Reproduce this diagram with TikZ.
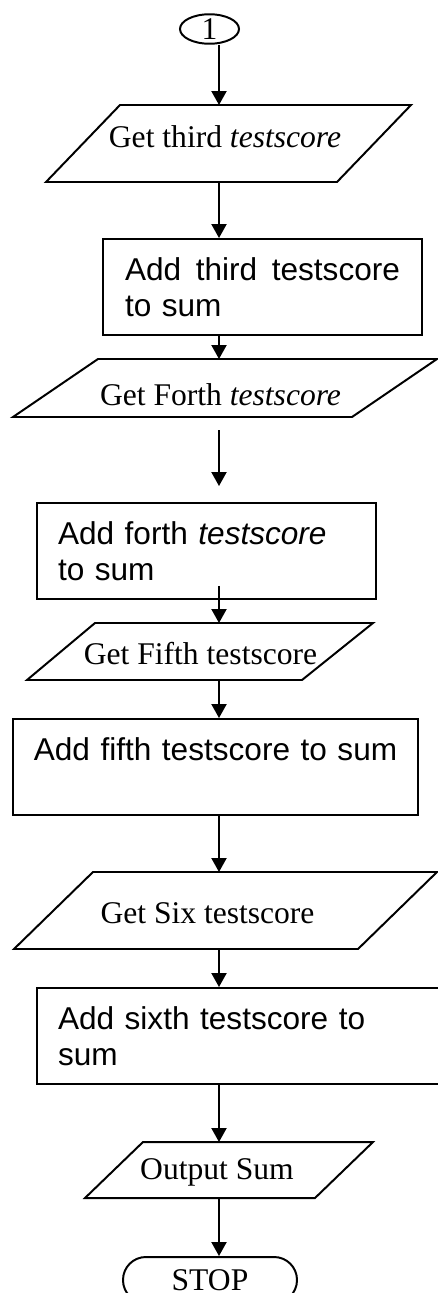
\documentclass[tikz,border=0pt]{standalone}
\usepackage{fontspec}
\setmainfont{Liberation Serif}
\newfontfamily\arialfont{Liberation Sans}
\usetikzlibrary{arrows.meta,shapes.geometric}
\def\pxu{0.38pt}
\tikzset{
	outline/.style={line width=0.75pt},
	flow/.style={line width=0.75pt, -{Triangle[length=5.3pt,width=5.7pt]}},
	iotext/.style={anchor=base, inner sep=0pt, font=\fontsize{12}{13.8}\selectfont},
	procbox/.style={draw, outline, minimum height=96*\pxu, font=\arialfont\fontsize{12}{13.8}\selectfont},
}

\begin{document}
\begin{tikzpicture}[x=\pxu, y=-\pxu]
			%%%%% START %%%%%
			\useasboundingbox (0,0) rectangle (438,1293);
			\coordinate (spine) at (219,0);
			
			\node[draw, ellipse, outline, minimum width=59*\pxu, minimum height=29*\pxu, inner sep=0pt, font=\fontsize{12}{13.8}\selectfont] (c1) at (209.5,29) {1};
			
			\draw[outline] (120,105) -- (411,105) -- (337,182) -- (46,182) -- cycle;
			\node[iotext] (in3) at (225,148) {Get third \textit{testscore}};
			\coordinate (in3top) at (219,105);
			\coordinate (in3bot) at (219,182);
			
			\node[procbox, minimum width=319*\pxu, text width=275*\pxu, align=left] (add3) at (262.5,287) {Add\hfill third\hfill testscore\\to sum};
			
			\draw[outline] (98,359) -- (437,359) -- (352,417) -- (13,417) -- cycle;
			\node[iotext] (in4) at (220.5,405) {Get Forth \textit{testscore}};
			\coordinate (in4top) at (219,359);
			\coordinate (in4bot) at (219,417);
			
			\node[procbox, minimum width=339*\pxu, text width=297*\pxu, align=left] (add4) at (206.5,551) {Add forth \textit{testscore}\\to sum};
			
			\draw[outline] (95,623) -- (373,623) -- (302,680) -- (27,680) -- cycle;
			\node[iotext] (in5) at (200.5,664) {Get Fifth testscore};
			\coordinate (in5top) at (219,623);
			\coordinate (in5bot) at (219,680);
			
			\node[procbox, minimum width=405*\pxu, text width=380*\pxu, align=center] (add5) at (215.5,767) {Add fifth testscore to sum\\\mbox{}};
			
			\draw[outline] (93,872) -- (437,872) -- (358,949) -- (14,949) -- cycle;
			\node[iotext] (in6) at (207.5,923) {Get Six testscore};
			\coordinate (in6top) at (219,872);
			\coordinate (in6bot) at (219,949);
			
			\node[procbox, minimum width=404*\pxu, text width=362*\pxu, align=left] (add6) at (239,1036) {Add sixth testscore to\\sum};
			
			\draw[outline] (143,1142) -- (373,1142) -- (315,1198) -- (85,1198) -- cycle;
			\node[iotext] (out) at (217,1179) {Output Sum};
			\coordinate (outtop) at (219,1142);
			\coordinate (outbot) at (219,1198);
			
			\node[draw, outline, rounded corners=8.7pt, minimum width=174*\pxu, minimum height=46*\pxu, font=\fontsize{12}{13.8}\selectfont] (stop) at (210,1280) {STOP};
			
			\draw[flow] (c1.south -| spine) -- (in3top);
			\draw[flow] (in3bot) -- (add3.north -| spine);
			\draw[flow] (add3.south -| spine) -- (in4top);
			\draw[flow, shorten <=4.94pt, shorten >=6.08pt] (in4bot) -- (add4.north -| spine);
			\draw[flow, shorten <=-5.32pt] (add4.south -| spine) -- (in5top);
			\draw[flow] (in5bot) -- (add5.north -| spine);
			\draw[flow] (add5.south -| spine) -- (in6top);
			\draw[flow] (in6bot) -- (add6.north -| spine);
			\draw[flow] (add6.south -| spine) -- (outtop);
			\draw[flow] (outbot) -- (stop.north -| spine);
			
			%%%%% END %%%%%
\end{tikzpicture}
\end{document}
